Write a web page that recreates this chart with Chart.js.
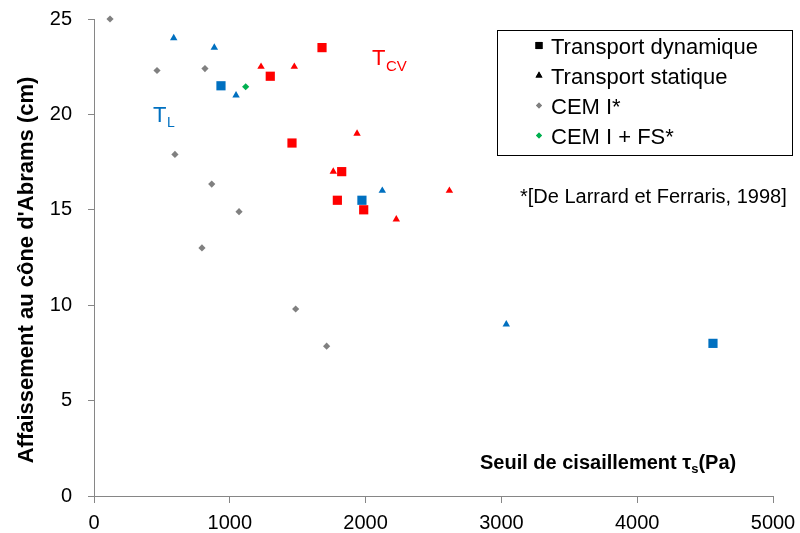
<!DOCTYPE html>
<html>
<head>
<meta charset="utf-8">
<script src="https://cdn.jsdelivr.net/npm/chart.js"></script>
<style>
  html, body { margin: 0; padding: 0; background: #fff; }
  #wrap { width: 800px; height: 533px; }
</style>
</head>
<body>
<div id="wrap"><canvas id="chart" width="800" height="533"></canvas></div>
<script>
// seuil de cisaillement (Pa) / affaissement (cm)
const dynL = [[935, 21.5], [1973, 15.5], [4558, 8.0]];
const dynCV = [[1679, 23.5], [1298, 22.0], [1458, 18.5], [1824, 17.0], [1792, 15.5], [1986, 15.0]];
const statL = [[587, 24.0], [886, 23.5], [1046, 21.0], [2123, 16.0], [3036, 9.0]];
const statCV = [[1230, 22.5], [1475, 22.5], [1937, 19.0], [1762, 17.0], [2617, 16.0], [2226, 14.5]];
const cemI = [[118, 25.0], [464, 22.3], [817, 22.4], [596, 17.9], [867, 16.35], [1068, 14.9], [795, 13.0], [1485, 9.8], [1713, 7.85]];
const cemIFS = [[1117, 21.45]];

const seriesLabels = ['Transport dynamique', 'Transport statique', 'CEM I*', 'CEM I + FS*'];
const xTicks = [0, 1000, 2000, 3000, 4000, 5000];
const yTicks = [0, 5, 10, 15, 20, 25];

const BLUE = '#0070C0';
const RED = '#FF0000';
const GREY = '#808080';
const GREEN = '#00B050';
const AXIS = '#868686';

const toPts = (arr) => arr.map(([x, y]) => ({ x, y }));
const colorsFor = (a, b) => a.map(() => BLUE).concat(b.map(() => RED));

// no extra room for overflowing tick labels, the paddings below place the plot
const noLabelPadding = (scale) => {
  scale.paddingTop = 0;
  scale.paddingBottom = 0;
  scale.paddingLeft = 0;
  scale.paddingRight = 0;
};

// legend box drawn inside the chart, like the Excel original
const boxLegend = {
  id: 'boxLegend',
  afterDraw(chart) {
    const ctx = chart.ctx;
    ctx.save();
    ctx.strokeStyle = '#000';
    ctx.lineWidth = 1;
    ctx.strokeRect(497.5, 30.5, 295, 125);
    ctx.font = '22px "Liberation Sans", Arial, sans-serif';
    ctx.fillStyle = '#000';
    ctx.textBaseline = 'alphabetic';
    chart.data.datasets.forEach((ds, i) => {
      const base = 53.5 + i * 30;
      ctx.fillStyle = ds.legendColor;
      Chart.helpers.drawPoint(ctx, { pointStyle: ds.pointStyle, radius: ds.legendRadius, rotation: 0, borderWidth: 0 }, 539, base - 8);
      ctx.fill();
      ctx.fillStyle = '#000';
      ctx.fillText(ds.label, 551, base);
    });
    ctx.restore();
  }
};

// texts placed on the plot: axis titles, T_L, T_CV, reference
const annotations = {
  id: 'annotations',
  afterDraw(chart) {
    const ctx = chart.ctx;
    const font = (w, s) => w + ' ' + s + 'px "Liberation Sans", Arial, sans-serif';
    ctx.save();
    ctx.textBaseline = 'alphabetic';

    // y title
    ctx.save();
    ctx.translate(33, 270);
    ctx.rotate(-Math.PI / 2);
    ctx.font = font('bold', 22);
    ctx.fillStyle = '#000';
    ctx.textAlign = 'center';
    ctx.fillText("Affaissement au cône d'Abrams (cm)", 0, 0);
    ctx.restore();

    // x title with subscript
    ctx.fillStyle = '#000';
    ctx.textAlign = 'left';
    let x = 480;
    ctx.font = font('bold', 20);
    const part1 = 'Seuil de cisaillement τ';
    ctx.fillText(part1, x, 469);
    x += ctx.measureText(part1).width;
    ctx.font = font('bold', 13);
    ctx.fillText('s', x, 473);
    x += ctx.measureText('s').width;
    ctx.font = font('bold', 20);
    ctx.fillText('(Pa)', x, 469);

    // T_L
    ctx.fillStyle = BLUE;
    ctx.font = font('normal', 22);
    ctx.fillText('T', 153, 122);
    ctx.font = font('normal', 14);
    ctx.fillText('L', 167, 127);

    // T_CV
    ctx.fillStyle = RED;
    ctx.font = font('normal', 22);
    ctx.fillText('T', 372, 65);
    ctx.font = font('normal', 15);
    ctx.fillText('CV', 386, 71);

    ctx.fillStyle = '#000';
    ctx.font = font('normal', 20);
    ctx.fillText('*[De Larrard et Ferraris, 1998]', 520, 203);
    ctx.restore();
  }
};

const ctx = document.getElementById('chart').getContext('2d');
new Chart(ctx, {
  type: 'scatter',
  data: {
    datasets: [
      {
        label: seriesLabels[0],
        data: toPts(dynL.concat(dynCV)),
        pointStyle: 'rect',
        pointRadius: 6.5,
        pointBackgroundColor: colorsFor(dynL, dynCV),
        pointBorderWidth: 0,
        legendColor: '#000',
        legendRadius: 5,
        clip: false,
      },
      {
        label: seriesLabels[1],
        data: toPts(statL.concat(statCV)),
        pointStyle: 'triangle',
        pointRadius: 4.3,
        pointBackgroundColor: colorsFor(statL, statCV),
        pointBorderWidth: 0,
        legendColor: '#000',
        legendRadius: 4,
        clip: false,
      },
      {
        label: seriesLabels[2],
        data: toPts(cemI),
        pointStyle: 'rectRot',
        pointRadius: 3.6,
        pointBackgroundColor: GREY,
        pointBorderWidth: 0,
        legendColor: GREY,
        legendRadius: 3,
        clip: false,
      },
      {
        label: seriesLabels[3],
        data: toPts(cemIFS),
        pointStyle: 'rectRot',
        pointRadius: 3.6,
        pointBackgroundColor: GREEN,
        pointBorderWidth: 0,
        legendColor: GREEN,
        legendRadius: 3,
        clip: false,
      },
    ],
  },
  options: {
    responsive: false,
    animation: false,
    layout: { padding: { left: 0, top: 19, right: 27, bottom: 0 } },
    plugins: {
      legend: { display: false },
      tooltip: { enabled: false },
    },
    scales: {
      x: {
        type: 'linear',
        min: xTicks[0],
        max: xTicks[xTicks.length - 1],
        afterFit: (scale) => { scale.height = 37; noLabelPadding(scale); },
        afterBuildTicks: (scale) => { scale.ticks = xTicks.map((v) => ({ value: v })); },
        grid: { drawOnChartArea: false, color: AXIS, tickLength: 7 },
        border: { color: AXIS, width: 1 },
        ticks: {
          padding: 8,
          color: '#000',
          font: { family: '"Liberation Sans", Arial, sans-serif', size: 20 },
          callback: (v) => String(v),
        },
      },
      y: {
        type: 'linear',
        min: yTicks[0],
        max: yTicks[yTicks.length - 1],
        afterFit: (scale) => { scale.width = 94; noLabelPadding(scale); },
        afterBuildTicks: (scale) => { scale.ticks = yTicks.map((v) => ({ value: v })); },
        grid: { drawOnChartArea: false, color: AXIS, tickLength: 6 },
        border: { color: AXIS, width: 1 },
        ticks: {
          padding: 16,
          color: '#000',
          font: { family: '"Liberation Sans", Arial, sans-serif', size: 20 },
          callback: (v) => String(v),
        },
      },
    },
  },
  plugins: [boxLegend, annotations],
});
</script>
</body>
</html>
